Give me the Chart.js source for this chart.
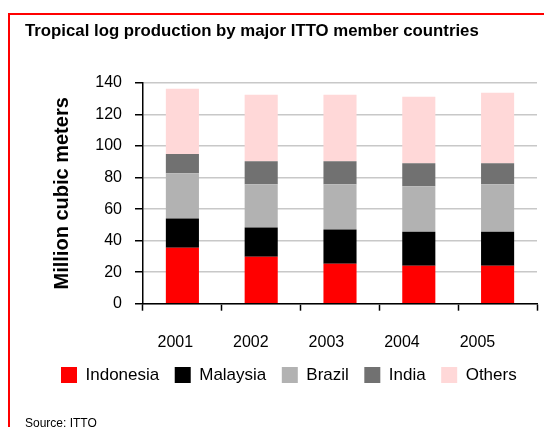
<!DOCTYPE html>
<html>
<head>
<meta charset="utf-8">
<script src="https://cdn.jsdelivr.net/npm/chart.js@4.4.1/dist/chart.umd.min.js"></script>
<style>
  html, body { margin: 0; padding: 0; background: #fff; overflow: hidden; }
  #wrap { position: absolute; left: 0; top: 0; width: 544px; height: 440px; }
  #frame { position: absolute; left: 8px; top: 13px; width: 600px; height: 500px; border: 2px solid #ff0000; box-sizing: border-box; pointer-events: none; }
</style>
</head>
<body>
<div id="wrap"><canvas id="c"></canvas></div>
<div id="frame"></div>
<script>
const years = ['2001', '2002', '2003', '2004', '2005'];
const indonesia = [35.5, 29.8, 25.3, 24.0, 24.0];
const malaysia = [18.5, 18.5, 21.7, 21.7, 21.7];
const brazil = [28.8, 27.4, 28.7, 28.8, 30.0];
const india = [12.1, 14.7, 14.7, 14.6, 13.4];
const others = [41.5, 42.2, 42.2, 42.2, 44.7];
const seriesNames = ['Indonesia', 'Malaysia', 'Brazil', 'India', 'Others'];
const seriesColors = ['#ff0000', '#000000', '#b2b2b2', '#717171', '#ffd8d8'];
const yTicks = [0, 20, 40, 60, 80, 100, 120, 140];

const FONT = '"Liberation Sans", Arial, Helvetica, sans-serif';
const seriesData = [indonesia, malaysia, brazil, india, others];

const legendShift = {
  id: 'legendShift',
  afterLayout(chart) {
    const lg = chart.legend;
    if (!lg || !lg.lineWidths) return;
    const pad = lg.options.labels.padding;
    const start = (lg.left + pad + lg.right - lg.lineWidths[0]) / 2;
    const dx = 61 - start;
    lg.left += dx; lg.right += dx;
    const dy = (367 - pad - 0.5) - lg.top;
    lg.top += dy; lg.bottom += dy;
  }
};

new Chart(document.getElementById('c'), {
  type: 'bar',
  data: {
    labels: years,
    datasets: seriesData.map((d, i) => ({
      label: seriesNames[i],
      data: d,
      backgroundColor: seriesColors[i],
      borderWidth: 0,
      categoryPercentage: 1,
      barPercentage: 0.42
    }))
  },
  options: {
    responsive: true,
    maintainAspectRatio: false,
    animation: false,
    layout: { padding: { left: 25, right: 7, top: 0, bottom: 0 } },
    plugins: {
      title: {
        display: true,
        text: 'Tropical log production by major ITTO member countries',
        align: 'start',
        color: '#000',
        font: { family: FONT, size: 16.8, weight: 'bold', lineHeight: 1.2 },
        padding: { top: 21, bottom: 41.8 }
      },
      subtitle: {
        display: true,
        text: 'Source: ITTO',
        position: 'bottom',
        align: 'start',
        color: '#000',
        font: { family: FONT, size: 12, lineHeight: 1.2 },
        padding: { top: 8.4, bottom: 8.8 }
      },
      legend: {
        position: 'bottom',
        labels: {
          boxWidth: 16,
          boxHeight: 16,
          padding: 15.5,
          color: '#000',
          font: { family: FONT, size: 17 }
        }
      },
      tooltip: { enabled: false }
    },
    scales: {
      x: {
        stacked: true,
        offset: true,
        grid: { display: true, drawOnChartArea: false, offset: true, tickColor: '#000', tickLength: 7, tickWidth: 1.5 },
        border: { display: true, color: '#000', width: 1.5 },
        ticks: { display: false }
      },
      xLabels: {
        type: 'linear',
        position: 'bottom',
        offset: false,
        min: -0.4275,
        max: 4.788,
        afterBuildTicks(scale) { scale.ticks = years.map((y, i) => ({ value: i })); },
        grid: { display: false, offset: false },
        border: { display: false },
        ticks: {
          color: '#000',
          padding: 14,
          maxRotation: 0,
          autoSkip: false,
          font: { family: FONT, size: 16 },
          callback: (v) => years[v]
        }
      },
      y: {
        stacked: true,
        min: 0,
        max: 140,
        afterBuildTicks(scale) { scale.ticks = yTicks.map(v => ({ value: v })); },
        grid: { color: '#c8c8c8', lineWidth: 1.5, tickColor: '#000', tickLength: 8, tickWidth: 1.5 },
        border: { display: true, color: '#000', width: 1.5 },
        ticks: { color: '#000', padding: 13, font: { family: FONT, size: 16 } },
        title: {
          display: true,
          text: 'Million cubic meters',
          color: '#000',
          font: { family: FONT, size: 20, weight: 'bold', lineHeight: 1.2 },
          padding: { top: 25, bottom: 8.3 }
        }
      }
    }
  },
  plugins: [legendShift]
});
</script>
</body>
</html>
